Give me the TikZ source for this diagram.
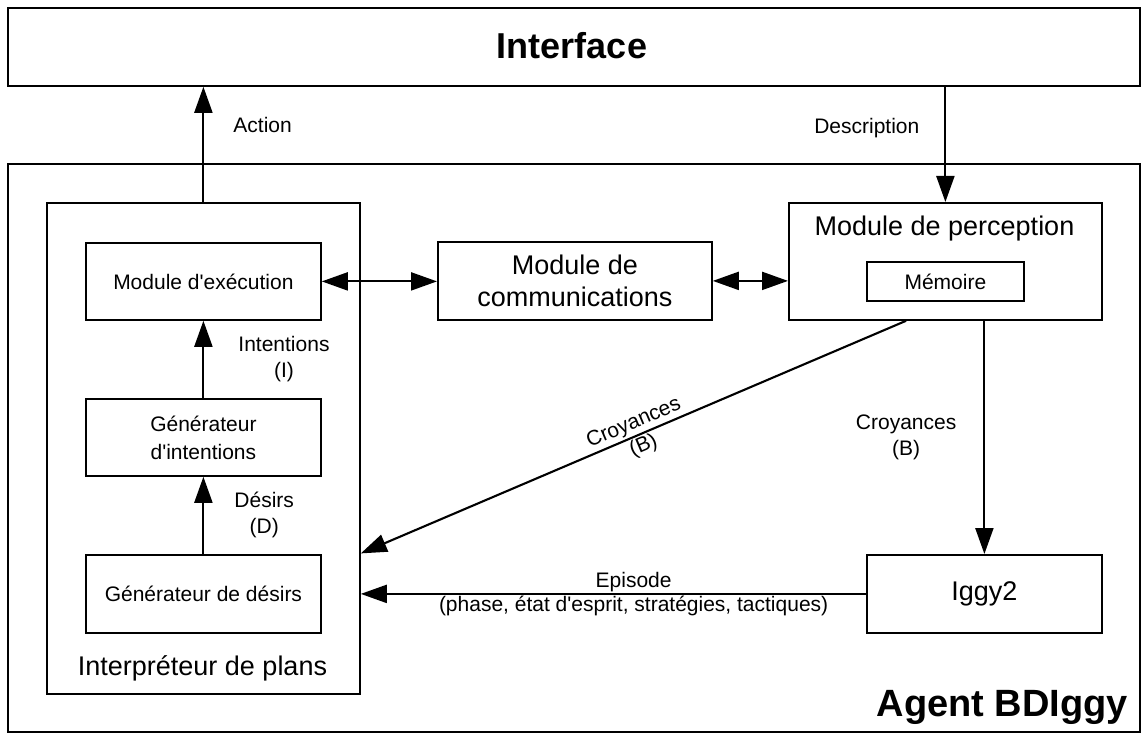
\documentclass[tikz,border=0pt]{standalone}
\usepackage{fontspec}
\setmainfont{Liberation Sans}
\usetikzlibrary{arrows.meta,calc}
\begin{document}
\begin{tikzpicture}[x=1pt,y=-1pt,
  box/.style={draw=black,line width=1.8pt,rectangle,inner sep=0pt,anchor=north west,align=center},
  lbl/.style={font=\fontsize{21}{26}\selectfont,align=center,inner sep=1pt},
  big/.style={font=\fontsize{27}{32}\selectfont},
  small/.style={font=\fontsize{21}{26}\selectfont},
  conn/.style={line width=2.1pt,-{Triangle[length=26pt,width=18pt]}},
  dconn/.style={line width=2.1pt,{Triangle[length=26pt,width=18pt]}-{Triangle[length=26pt,width=18pt]}}
]
\useasboundingbox (0,0) rectangle (1144,733);
% outer boxes
\node[box,minimum width=1132pt,minimum height=78pt] (iface) at (7,7) {};
\node[font=\fontsize{36}{40}\selectfont\bfseries] (ifacet) at (572,46) {Interface};
\node[box,minimum width=1132pt,minimum height=568pt] (agent) at (7,163) {};
\node[font=\fontsize{38}{42}\selectfont\bfseries,anchor=base east,inner sep=0pt] (agentt) at (1128,716) {Agent BDIggy};
% interpreter
\node[box,minimum width=313pt,minimum height=491pt] (interp) at (46,202) {};
\node[big] (interpt) at (202.5,668) {Interpréteur de plans};
\node[box,small,minimum width=235pt,minimum height=77pt] (exec) at (85,242) {Module d\textquotesingle exécution};
\node[box,small,minimum width=235pt,minimum height=77pt] (gint) at (85,398) {Générateur\\[2pt]d\textquotesingle intentions};
\node[box,small,minimum width=235pt,minimum height=78pt] (gdes) at (85,554) {Générateur de désirs};
% middle and right
\node[box,big,minimum width=274pt,minimum height=78pt] (comm) at (437,241) {Module de\\communications};
\node[box,minimum width=313pt,minimum height=117pt] (percep) at (788,202) {};
\node[big] (percept) at (944.5,229) {Module de perception};
\node[box,small,minimum width=157pt,minimum height=39pt] (mem) at (866,261) {Mémoire};
\node[box,big,minimum width=235pt,minimum height=78pt] (iggy) at (866,554) {Iggy2};
% coordinates
\coordinate (dstart) at ($(percep.south west)!0.375!(percep.south east)$);
\coordinate (dend) at ($(interp.east)+(0,105)$);
\coordinate (eend) at (interp.east |- iggy.west);
% connectors
\draw[conn] (interp.north) -- (interp.north |- iface.south) node[lbl,pos=0.67,right=28pt] {Action};
\draw[conn] (percep.north |- iface.south) -- (percep.north) node[lbl,pos=0.36,left=24pt] {Description};
\draw[conn] (gint) -- (exec) node[lbl,midway,right=33pt] {Intentions\\(I)};
\draw[conn] (gdes) -- (gint) node[lbl,midway,right=29pt] {Désirs\\(D)};
\draw[dconn] (exec.east) -- (comm.west |- exec.east);
\draw[dconn] (comm.east) -- (percep.west |- comm.east);
\draw[conn] (dstart) -- (dend)
  node[lbl,pos=0.49,sloped,font=\fontsize{21}{25}\selectfont] {Croyances\\(B)};
\draw[conn] (iggy.north |- percep.south) -- (iggy.north) node[lbl,midway,left=26pt] {Croyances\\(B)};
\draw[conn] (iggy.west) -- (eend)
  node[lbl,pos=0.46,above=0pt] {Episode}
  node[lbl,pos=0.46,below=0pt] {(phase, état d\textquotesingle esprit, stratégies, tactiques)};
\end{tikzpicture}
\end{document}
